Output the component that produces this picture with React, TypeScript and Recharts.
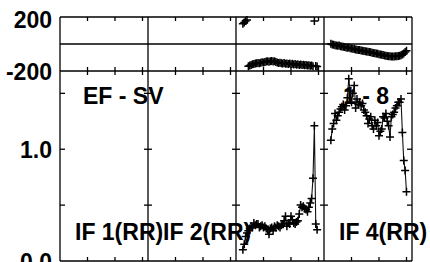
import React from 'react';
import { ComposedChart, Line, XAxis, YAxis, ReferenceLine } from 'recharts';

const CHANNELS_PER_IF = 64;
const IF_COUNT = 4;
const ifLabels = ['IF 1(RR)', 'IF 2(RR)', '', 'IF 4(RR)'];
const sourceLabel = 'EF - SV';
const baselineLabel = '1 - 8';
const xTickChannels = [20, 40, 60];
const phaseTicks = [-200, 200];
const phaseDomain = [-200, 200];
const ampTicks = [0, 0.5, 1.0, 1.5];
const ampLabelled = [0, 1.0];
const ampDomain = [0, 1.7];

// IF 3 : channels 5..59
const if3FirstChannel = 5;
const if3Amp = [
  0.10, 0.15, 0.22, 0.25, 0.27, 0.29, 0.31, 0.30, 0.34, 0.32,
  0.33, 0.33, 0.30, 0.31, 0.32, 0.30, 0.31, 0.29, 0.28, 0.24,
  0.29, 0.30, 0.27, 0.31, 0.30, 0.32, 0.31, 0.30, 0.32, 0.33,
  0.36, 0.40, 0.31, 0.34, 0.33, 0.40, 0.37, 0.34, 0.33, 0.35,
  0.36, 0.42, 0.50, 0.48, 0.49, 0.47, 0.46, 0.44, 0.48, 0.52,
  0.56, 0.74, 1.21, 0.33, 0.28,
];
const if3Phase = [
  150, 160, 170, 178, -165, -160, -155, -150, -148, -145,
  -142, -140, -143, -138, -135, -137, -133, -130, -128, -132,
  -127, -125, -130, -128, -133, -137, -140, -138, -143, -145,
  -141, -146, -144, -148, -145, -150, -147, -152, -149, -153,
  -150, -155, -152, -156, -154, -158, -155, -160, -157, -162,
  -160, -165, 170, -163, -166,
];

// IF 4 : channels 5..60
const if4FirstChannel = 5;
const if4Amp = [
  1.08, 1.18, 1.23, 1.32, 1.26, 1.30, 1.33, 1.36, 1.38, 1.40,
  1.35, 1.39, 1.46, 1.63, 1.52, 1.42, 1.50, 1.57, 1.37, 1.45,
  1.40, 1.42, 1.39, 1.41, 1.35, 1.33, 1.30, 1.23, 1.27, 1.29,
  1.21, 1.18, 1.26, 1.21, 1.24, 1.12, 1.16, 1.18, 1.29, 1.28,
  1.32, 1.25, 1.21, 1.11, 1.29, 1.31, 1.33, 1.37, 1.39, 1.42,
  1.42, 1.45, 1.15, 0.90, 0.81, 0.62,
];
const if4Phase = [
  2, -4, -5, -9, -11, -13, -12, -17, -19, -21,
  -23, -25, -27, -26, -31, -33, -35, -37, -40, -42,
  -44, -45, -48, -50, -52, -53, -56, -58, -60, -62,
  -65, -66, -69, -71, -73, -75, -77, -80, -82, -85,
  -87, -88, -90, -91, -92, -93, -92, -91, -90, -89,
  -87, -84, -78, -70, -60, -50,
];

const toSeries = (ifIndex: number, first: number, vals: number[]) =>
  vals.map((v, i) => ({ x: ifIndex * CHANNELS_PER_IF + first + i, y: v }));

const if3AmpData = toSeries(2, if3FirstChannel, if3Amp);
const if4AmpData = toSeries(3, if4FirstChannel, if4Amp);
const if3PhaseData = toSeries(2, if3FirstChannel, if3Phase);
const if4PhaseData = toSeries(3, if4FirstChannel, if4Phase);

const XMAX = IF_COUNT * CHANNELS_PER_IF;
const XDOMAIN = [0, XMAX];
const separators = Array.from({ length: IF_COUNT - 1 }, (_, i) => (i + 1) * CHANNELS_PER_IF);
const xTicks: number[] = [];
for (let k = 0; k < IF_COUNT; k++) xTickChannels.forEach((c) => xTicks.push(k * CHANNELS_PER_IF + c));
const innerAmpTicks = ampTicks.filter((t) => t > ampDomain[0]);

// tick-mark series (positions come from the tick arrays through the chart scales)
const phaseTopTicks = xTicks.map((x) => ({ x, y: phaseDomain[1] }));
const phaseBottomTicks = xTicks.map((x) => ({ x, y: phaseDomain[0] }));
const ampBottomTicks = xTicks.map((x) => ({ x, y: ampDomain[0] }));
const ampLeftTicks = innerAmpTicks.map((y) => ({ x: 0, y }));
const ampRightTicks = innerAmpTicks.map((y) => ({ x: XMAX, y }));
const sepTickSeries = separators.map((s) => innerAmpTicks.map((t) => ({ x: s, y: t })));

const FONT = '"Liberation Sans", Arial, sans-serif';
const FS = 23;
const INK = '#000';
const LW = 1.3;
const W = 430;
const H = 262;

const mark = (d: (cx: number, cy: number) => string, sw = LW) => (props: any) => {
  const { cx, cy, index } = props;
  if (cx == null || cy == null) return <g key={index} />;
  return <path key={index} d={d(cx, cy)} stroke={INK} strokeWidth={sw} fill="none" />;
};
const plus = mark((cx, cy) => `M${cx - 4},${cy}h8M${cx},${cy - 4}v8`, 1.5);
const hCross = mark((cx, cy) => `M${cx - 4},${cy}h8`);
const vCross = mark((cx, cy) => `M${cx},${cy - 4}v8`);
const vDown = mark((cx, cy) => `M${cx},${cy}v4`);
const vUp = mark((cx, cy) => `M${cx},${cy - 4}v4`);
const hRight = mark((cx, cy) => `M${cx},${cy}h5`);
const hLeft = mark((cx, cy) => `M${cx - 5},${cy}h5`);

const leftLabel = (labelled: number[] | null, topVal: number) => (props: any) => {
  const v = props.payload.value;
  const showLabel = labelled ? labelled.includes(v) : true;
  if (!showLabel) return <g />;
  const label = Math.abs(v) >= 10 ? String(v) : v.toFixed(1);
  return (
    <text x={props.x - 8} y={props.y + (v === topVal ? 11 : 9)} textAnchor="end" fontFamily={FONT} fontWeight="bold" fontSize={FS} fill={INK}>
      {label}
    </text>
  );
};

const ticksLine = (data: any[], dot: any, key: string) => (
  <Line key={key} data={data} dataKey="y" stroke="none" dot={dot} activeDot={false} isAnimationActive={false} />
);

export default function App() {
  return (
    <div style={{ position: 'absolute', left: 0, top: 0, width: W, height: H, background: '#fff' }}>
      <div style={{ position: 'absolute', left: 0, top: 0 }}>
        <ComposedChart width={W} height={H} margin={{ top: 17, right: 18, bottom: 191, left: 0 }}>
          <XAxis type="number" dataKey="x" domain={XDOMAIN} hide />
          <YAxis type="number" domain={phaseDomain} ticks={phaseTicks} interval={0} width={60} tickSize={0} tickMargin={0} tickLine={false} axisLine={false} tick={leftLabel(null, phaseDomain[1])} />
          <ReferenceLine y={0} stroke={INK} strokeWidth={LW} />
          <ReferenceLine y={phaseDomain[0]} stroke={INK} strokeWidth={LW} />
          <ReferenceLine y={phaseDomain[1]} stroke={INK} strokeWidth={LW} />
          <ReferenceLine x={0} stroke={INK} strokeWidth={LW} />
          <ReferenceLine x={XMAX} stroke={INK} strokeWidth={LW} />
          {separators.map((s) => (
            <ReferenceLine key={s} x={s} stroke={INK} strokeWidth={LW} />
          ))}
          {ticksLine(phaseTopTicks, vDown, 'pt')}
          {ticksLine(phaseBottomTicks, vCross, 'pb')}
          <Line data={if3PhaseData} dataKey="y" stroke="none" dot={plus} activeDot={false} isAnimationActive={false} />
          <Line data={if4PhaseData} dataKey="y" stroke="none" dot={plus} activeDot={false} isAnimationActive={false} />
        </ComposedChart>
      </div>
      <div style={{ position: 'absolute', left: 0, top: 0 }}>
        <ComposedChart width={W} height={H} margin={{ top: 71, right: 18, bottom: 1, left: 0 }}>
          <XAxis type="number" dataKey="x" domain={XDOMAIN} hide />
          <YAxis type="number" domain={ampDomain} ticks={ampTicks} interval={0} width={60} tickSize={0} tickMargin={0} tickLine={false} axisLine={false} tick={leftLabel(ampLabelled, 99)} />
          <ReferenceLine y={ampDomain[0]} stroke={INK} strokeWidth={LW} />
          <ReferenceLine x={0} stroke={INK} strokeWidth={LW} />
          <ReferenceLine x={XMAX} stroke={INK} strokeWidth={LW} />
          {separators.map((s) => (
            <ReferenceLine key={s} x={s} stroke={INK} strokeWidth={LW} />
          ))}
          {ticksLine(ampBottomTicks, vUp, 'ab')}
          {ticksLine(ampLeftTicks, hRight, 'al')}
          {ticksLine(ampRightTicks, hLeft, 'ar')}
          {sepTickSeries.map((d, i) => ticksLine(d, hCross, 's' + i))}
          <Line data={if3AmpData} dataKey="y" stroke="#111" strokeWidth={1.1} dot={plus} activeDot={false} isAnimationActive={false} />
          <Line data={if4AmpData} dataKey="y" stroke="#111" strokeWidth={1.1} dot={plus} activeDot={false} isAnimationActive={false} />
        </ComposedChart>
      </div>
      <svg width={W} height={H} style={{ position: 'absolute', left: 0, top: 0, pointerEvents: 'none' }}>
        <g fontFamily={FONT} fontWeight="bold" fontSize={FS} fill={INK}>
          <text x={83} y={104}>{sourceLabel}</text>
          <text x={343} y={104}>{baselineLabel}</text>
          {ifLabels.map((l, i) =>
            l ? (
              <text key={i} x={60 + i * 88 + 15} y={240}>
                {l}
              </text>
            ) : null
          )}
        </g>
      </svg>
    </div>
  );
}
